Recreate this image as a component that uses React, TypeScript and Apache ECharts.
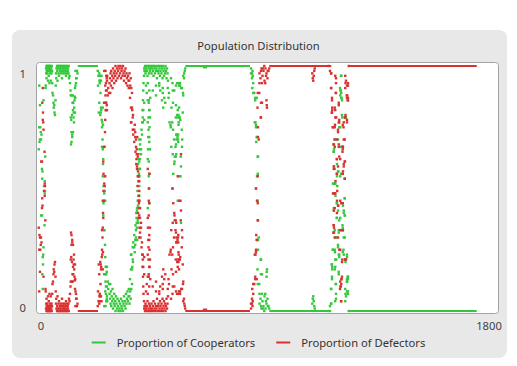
import React, { useEffect, useRef } from "react";
import * as echarts from "echarts";

// ---------- data (time step, proportion of cooperators) ----------
const xTicks = [0, 1800];
const yTicks = [0, 1];

const coopTransient: [number, number][] = [
  [3, 0.66], [5, 0.92], [5, 0.75], [6, 0.69], [8, 0.84], [8, 0.7], [9, 0.75], [11, 0.73], [12, 0.7],
  [13, 0.39], [14, 0.72], [16, 0.58], [17, 0.54], [16, 0.39], [18, 0.57], [17, 0.15], [19, 0.22],
  [20, 0.19], [19, 0.09], [21, 0.23], [22, 0.26], [22, 0.86], [24, 0.51], [26, 0.35], [27, 0.48],
  [27, 0.53], [28, 0.49], [29, 0.63], [30, 0.91],
];

const coopEarlyHigh: [number, number][] = [
  [32, 0.99], [33, 0.97], [34, 1], [35, 0.98], [36, 1], [37, 0.99], [38, 0.97], [39, 1], [40, 0.99],
  [41, 0.98], [42, 1], [43, 0.96], [44, 0.99], [45, 1], [46, 0.98], [47, 0.99], [48, 1], [49, 0.97],
  [50, 0.99], [51, 1], [52, 0.98], [53, 0.99], [54, 0.97], [55, 1], [56, 0.98],
  [34, 0.95], [40, 0.94], [46, 0.93], [51, 0.94], [31, 0.92],
  [57, 0.93], [58, 0.89], [60, 0.88], [62, 0.85], [63, 0.83], [65, 0.84], [66, 0.81], [68, 0.8],
  [70, 0.86], [71, 0.92],
  [72, 0.97], [73, 0.95], [74, 0.99], [76, 1], [77, 0.98], [78, 0.94], [79, 1], [80, 0.99], [82, 0.97],
  [83, 1], [84, 0.96], [86, 0.99], [87, 1], [88, 0.98], [90, 1], [91, 0.97], [92, 0.99], [94, 1],
  [95, 0.98], [96, 0.95], [98, 1], [99, 0.99], [100, 0.97], [102, 1], [103, 0.98], [104, 0.99],
  [106, 1], [107, 0.97], [108, 0.99], [110, 1], [111, 0.98], [112, 0.96], [114, 1], [115, 0.99],
  [116, 0.97], [118, 1], [119, 0.98], [120, 0.99], [122, 0.97], [123, 1], [124, 0.95], [126, 0.96],
  [128, 0.93],
  [130, 0.9], [131, 0.88], [131, 0.79], [132, 0.68], [133, 0.78], [134, 0.69], [134, 0.73],
  [135, 0.88], [136, 0.8], [137, 0.71], [137, 0.72], [138, 0.85], [139, 0.88], [140, 0.82],
  [140, 0.73], [141, 0.85], [142, 0.79], [143, 0.81], [144, 0.77], [145, 0.83], [146, 0.86],
  [147, 0.875], [148, 0.81], [148, 0.91], [149, 0.87], [150, 0.92], [150, 0.98], [152, 0.93],
  [153, 0.95], [154, 0.95], [156, 0.98], [158, 0.97],
];

const coopFirstFall: [number, number][] = [
  [239, 0.98], [240, 0.92], [242, 0.96], [243, 0.81], [245, 0.97], [246, 0.94], [245, 0.85],
  [247, 0.93], [248, 0.96], [249, 0.8], [248, 0.94], [250, 0.89], [251, 0.81], [252, 0.94],
  [252, 0.83], [253, 0.82], [254, 0.96], [255, 0.78], [256, 0.75], [256, 0.67], [257, 0.77],
  [258, 0.7], [259, 0.83], [260, 0.76], [259, 0.66], [260, 0.6], [259, 0.55], [261, 0.62],
  [262, 0.51], [261, 0.39], [262, 0.44], [264, 0.33], [264, 0.55], [264, 0.15], [265, 0.48],
  [266, 0.33], [265, 0.02], [267, 0.49], [268, 0.27], [269, 0.45], [269, 0.22], [270, 0.15],
  [269, 0.08], [271, 0.18], [270, 0.02], [270, 0.12], [272, 0.18], [272, 0.07], [273, 0.04],
  [272, 0.1], [273, 0.15], [275, 0.16], [275, 0.1], [276, 0.06], [275, 0.05], [276, 0.18],
  [277, 0.04], [279, 0.12], [281, 0.09], [284, 0.11],
];

const coopFirstLow: [number, number][] = [
  [286, 0.07], [288, 0.05], [289, 0.11], [290, 0.03], [292, 0.08], [293, 0.02], [295, 0.06],
  [297, 0.04], [298, 0.09], [300, 0.01], [302, 0.05], [303, 0.03], [305, 0.07], [307, 0.02],
  [309, 0.04], [310, 0], [312, 0.06], [314, 0.03], [316, 0.01], [318, 0.05], [320, 0.02],
  [322, 0], [324, 0.04], [326, 0.01], [328, 0.03], [330, 0], [332, 0.05], [334, 0.02],
  [336, 0.01], [338, 0.04], [340, 0], [342, 0.03], [344, 0.06], [346, 0.02], [348, 0.04],
  [350, 0.01], [352, 0.07], [354, 0.03], [356, 0.05], [358, 0.08], [360, 0.04], [362, 0.06],
  [363, 0.09], [365, 0.06], [366, 0.03], [368, 0.13], [369, 0.08], [371, 0.05],
];

const coopFirstRise: [number, number][] = [
  [372, 0.23], [372, 0.17], [373, 0.09], [376, 0.11], [377, 0.18], [379, 0.26], [380, 0.2],
  [381, 0.28], [385, 0.31], [387, 0.24], [389, 0.27], [390, 0.35], [392, 0.3], [393, 0.4],
  [394, 0.38], [395, 0.34], [396, 0.42], [397, 0.29], [399, 0.45], [398, 0.49], [400, 0.6],
  [401, 0.36], [402, 0.47], [403, 0.53], [404, 0.56], [405, 0.51], [406, 0.55], [405, 0.58],
  [406, 0.66], [408, 0.62], [410, 0.7], [412, 0.64], [414, 0.74], [416, 0.72], [417, 0.77],
  [418, 0.82], [419, 0.79], [420, 0.86], [421, 0.9], [422, 0.93], [424, 0.96], [425, 0.99],
  [373, 0.23], [379, 0.21], [376, 0.17], [385, 0.26], [389, 0.29], [392, 0.33], [395, 0.36],
  [399, 0.37], [396, 0.41], [400, 0.43], [402, 0.45], [405, 0.47], [402, 0.62], [405, 0.61],
  [408, 0.58], [403, 0.55], [405, 0.7], [408, 0.68], [412, 0.66], [419, 0.77], [425, 0.78],
  [421, 0.82], [425, 0.85],
];

const coopSecondHigh: [number, number][] = [
  [426, 0.98], [428, 1], [430, 0.97], [432, 0.99], [434, 1], [436, 0.98], [438, 0.96], [440, 1],
  [442, 0.99], [444, 0.97], [446, 1], [448, 0.98], [450, 0.99], [452, 1], [454, 0.97], [456, 0.99],
  [458, 1], [460, 0.98], [462, 0.96], [464, 1], [466, 0.99], [468, 0.97], [470, 1], [472, 0.98],
  [474, 0.99], [476, 0.95], [478, 1], [480, 0.98], [482, 0.97], [484, 1], [486, 0.99], [488, 0.96],
  [490, 0.98], [492, 1], [494, 0.97], [496, 0.99], [498, 0.95], [500, 1], [502, 0.98], [504, 0.96],
  [506, 0.99], [508, 0.97], [510, 1], [512, 0.98], [514, 0.95], [516, 0.99], [518, 0.97],
  [520, 0.94],
  [432, 0.92], [435, 0.89], [439, 0.86], [443, 0.85], [445, 0.82], [442, 0.79], [439, 0.77],
  [446, 0.75], [441, 0.71], [445, 0.69], [448, 0.66], [439, 0.62], [445, 0.56], [443, 0.55],
  [446, 0.44], [439, 0.42], [444, 0.5], [443, 0.61], [440, 0.66], [445, 0.71], [442, 0.74],
  [448, 0.79], [446, 0.82], [443, 0.86], [449, 0.87], [445, 0.9], [439, 0.93], [433, 0.98],
  [472, 0.92], [485, 0.92], [489, 0.9], [499, 0.89], [505, 0.87], [509, 0.85], [501, 0.83],
  [496, 0.86], [459, 0.9], [472, 0.88], [485, 0.93], [499, 0.91],
];

const coopSecondDip: [number, number][] = [
  [519, 0.91], [524, 0.89], [526, 0.77], [522, 0.87], [531, 0.75], [533, 0.67], [530, 0.76],
  [534, 0.83], [532, 0.95], [538, 0.93], [540, 0.85], [537, 0.77], [539, 0.64], [541, 0.56],
  [538, 0.5], [540, 0.74], [539, 0.9], [545, 0.9], [544, 0.7], [546, 0.61], [545, 0.6],
  [547, 0.63], [552, 0.92], [551, 0.79], [553, 0.72], [552, 0.68], [550, 0.67], [554, 0.7],
  [551, 0.63], [553, 0.64], [552, 0.84], [555, 0.72], [557, 0.8], [558, 0.71], [556, 0.93],
  [559, 0.82], [560, 0.7], [559, 0.45], [561, 0.72], [559, 0.79], [562, 0.8], [561, 0.69],
  [563, 0.93], [564, 0.83], [563, 0.77], [562, 0.76], [564, 0.92], [565, 0.55], [566, 0.79],
  [568, 0.92], [567, 0.79], [569, 0.78], [568, 0.93], [571, 0.63], [572, 0.59], [570, 0.55],
  [572, 0.36], [573, 0.91], [576, 0.91], [575, 0.74], [577, 0.7], [576, 0.67], [579, 0.81],
  [580, 0.89], [581, 0.88], [581, 0.96], [584, 0.95], [585, 0.97], [587, 0.98], [589, 0.99],
];

const coopPlateauBump: [number, number][] = [
  [664, 0.995], [672, 0.995],
];

const coopSecondFall: [number, number][] = [
  [852, 0.99], [856, 0.97], [859, 0.96], [861, 0.93], [857, 0.91], [865, 0.89], [869, 0.87],
  [875, 0.87], [870, 0.77], [872, 0.75], [875, 0.71], [873, 0.69], [879, 0.63], [876, 0.55],
  [872, 0.5], [879, 0.45], [880, 0.29], [892, 0.21], [878, 0.17], [896, 0.15], [915, 0.16],
  [914, 0.14], [885, 0.11], [886, 0.07], [896, 0.07], [909, 0.07], [912, 0.04], [919, 0.02],
  [892, 0.02], [899, 0.01], [925, 0.01], [905, 0],
  [879, 0.11], [892, 0.15], [916, 0.17], [880, 0.25], [891, 0.21], [883, 0.3], [879, 0.56],
  [872, 0.76], [867, 0.77], [869, 0.86], [861, 0.89], [852, 0.97], [858, 0.98], [856, 0.95],
  [876, 0.71], [880, 0.63],
  [886, 0.03], [890, 0.05], [894, 0.01], [898, 0.04], [902, 0.02], [906, 0.06], [910, 0.01],
  [914, 0.03], [918, 0.05], [922, 0.02],
];

const coopLowBump: [number, number][] = [
  [1097, 0.03], [1099, 0.05], [1101, 0.06], [1103, 0.04], [1105, 0.02], [1107, 0.01],
];

const coopLastSwing: [number, number][] = [
  [1163, 0], [1168, 0.02], [1172, 0.03], [1192, 0.05], [1173, 0.09], [1192, 0.07], [1176, 0.14],
  [1191, 0.11], [1203, 0.16], [1177, 0.18], [1175, 0.19], [1189, 0.18], [1193, 0.21],
  [1205, 0.23], [1223, 0.23], [1229, 0.21], [1236, 0.23], [1222, 0.25], [1179, 0.25],
  [1187, 0.25], [1200, 0.27], [1186, 0.3], [1196, 0.3], [1227, 0.3], [1203, 0.33], [1219, 0.33],
  [1218, 0.35], [1209, 0.38], [1196, 0.38], [1227, 0.39], [1200, 0.41], [1183, 0.42],
  [1223, 0.41], [1195, 0.44], [1219, 0.44], [1227, 0.46], [1183, 0.52], [1189, 0.52],
  [1196, 0.55], [1213, 0.56], [1200, 0.57], [1183, 0.59], [1196, 0.6], [1183, 0.65],
  [1219, 0.67], [1213, 0.67], [1184, 0.68], [1200, 0.7], [1205, 0.75], [1216, 0.8], [1229, 0.79],
  [1209, 0.88], [1213, 0.87], [1210, 0.9], [1208, 0.91], [1213, 0.96], [1240, 0.08],
  [1236, 0.08], [1232, 0.06], [1240, 0.13], [1239, 0.14], [1236, 0.13], [1235, 0.12],
  [1212, 0.96], [1211, 0.9], [1213, 0.89], [1214, 0.87], [1216, 0.86], [1217, 0.79],
  [1232, 0.79], [1209, 0.75], [1189, 0.7], [1182, 0.68], [1209, 0.67], [1184, 0.66],
  [1183, 0.65], [1201, 0.57], [1187, 0.58], [1219, 0.56], [1209, 0.55], [1180, 0.52],
  [1188, 0.52], [1197, 0.51], [1190, 0.47], [1227, 0.46], [1196, 0.44], [1220, 0.43],
  [1184, 0.41], [1223, 0.4], [1228, 0.39], [1195, 0.38], [1205, 0.37], [1219, 0.34],
  [1187, 0.33], [1203, 0.32], [1220, 0.33], [1223, 0.3], [1183, 0.32], [1200, 0.26],
  [1180, 0.25], [1188, 0.24], [1203, 0.23], [1219, 0.24], [1236, 0.22], [1205, 0.22],
  [1227, 0.21], [1230, 0.2], [1189, 0.21], [1176, 0.19], [1177, 0.17], [1187, 0.17],
  [1203, 0.15], [1176, 0.13], [1240, 0.14], [1237, 0.12], [1192, 0.11], [1172, 0.09],
  [1229, 0.09], [1230, 0.07], [1240, 0.07], [1189, 0.04], [1229, 0.04], [1173, 0.03],
  [1243, 0],
];

// flat stretches where the proportion stays put: start, end, cooperator value
const runStart = [159, 589, 925, 1243];
const runEnd = [240, 848, 1173, 1755];
const runCoopValue = [1, 1, 0, 0];

const coopName = "Proportion of Cooperators";
const defectName = "Proportion of Defectors";
const green = "#33c83a";
const red = "#d93131";
const FONT = "'Segoe UI', 'Noto Sans', 'Open Sans', sans-serif";
const FS = 11.2;

export default function App() {
  const ref = useRef<HTMLDivElement>(null);

  useEffect(() => {
    if (!ref.current) return;
    const chart = echarts.init(ref.current, undefined, { renderer: "svg" });

    const coop: [number, number][] = [
      ...coopTransient,
      ...coopEarlyHigh,
      ...coopFirstFall,
      ...coopFirstLow,
      ...coopFirstRise,
      ...coopSecondHigh,
      ...coopSecondDip,
      ...coopPlateauBump,
      ...coopSecondFall,
      ...coopLowBump,
      ...coopLastSwing,
    ];
    const defect: [number, number][] = coop.map(([t, v]) => [t, 1 - v]);

    const runs = (complement: boolean) =>
      runStart.map((s, i) => {
        const v = complement ? 1 - runCoopValue[i] : runCoopValue[i];
        return [{ coord: [s, v] }, { coord: [runEnd[i], v] }];
      });

    const markLine = (color: string, complement: boolean) => ({
      silent: true,
      symbol: ["none", "none"],
      label: { show: false },
      lineStyle: { color, width: 2, type: "solid", opacity: 1 },
      emphasis: { disabled: true },
      animation: false,
      data: runs(complement),
    });

    const labelText = { fontSize: FS, color: "#444444", fontFamily: FONT };

    chart.setOption({
      animation: false,
      backgroundColor: "#ffffff",
      textStyle: { fontFamily: FONT },
      graphic: [
        {
          type: "rect",
          z: -10,
          silent: true,
          shape: { x: 12, y: 30, width: 495, height: 328, r: 8 },
          style: { fill: "#e8e8e8" },
        },
        {
          type: "rect",
          z: -9,
          silent: true,
          shape: { x: 36.5, y: 62.5, width: 462, height: 251, r: 3 },
          style: { fill: "#ffffff", stroke: "#a3a3a3", lineWidth: 1 },
        },
      ],
      title: {
        text: "Population Distribution",
        left: "center",
        top: 40,
        padding: 0,
        textStyle: { fontSize: FS, fontWeight: "normal", color: "#333333", fontFamily: FONT },
      },
      legend: {
        data: [
          { name: coopName, itemStyle: { color: green } },
          { name: defectName, itemStyle: { color: red } },
        ],
        left: "center",
        top: 337,
        padding: 0,
        icon: "rect",
        itemWidth: 14,
        itemHeight: 2,
        itemGap: 21,
        textStyle: { fontSize: FS, color: "#333333", fontFamily: FONT, padding: [0, 0, 0, 6] },
      },
      grid: { left: 38, right: 29, top: 66, bottom: 55, containLabel: false },
      xAxis: {
        type: "value",
        min: xTicks[0],
        max: xTicks[1],
        interval: xTicks[1] - xTicks[0],
        axisLine: { show: false },
        axisTick: { show: false },
        splitLine: { show: false },
        axisLabel: {
          margin: 9,
          ...labelText,
          formatter: (v: number) => (v === xTicks[0] ? `{a|${v}}` : `{b|${v}}`),
          rich: {
            a: { padding: [0, 0, 0, 6], ...labelText },
            b: { padding: [0, 0, 0, 2], ...labelText },
          },
        },
      },
      yAxis: {
        type: "value",
        min: yTicks[0],
        max: yTicks[1],
        interval: yTicks[1] - yTicks[0],
        axisLine: { show: false },
        axisTick: { show: false },
        splitLine: { show: false },
        axisLabel: {
          margin: 12,
          ...labelText,
          formatter: (v: number) => (v === yTicks[1] ? `{t|${v}}` : `{b|${v}}`),
          rich: {
            t: { padding: [15, 0, 0, 0], ...labelText },
            b: { padding: [0, 0, 8, 0], ...labelText },
          },
        },
      },
      series: [
        {
          name: coopName,
          type: "scatter",
          symbol: "rect",
          symbolSize: 2.4,
          itemStyle: { color: green, opacity: 1 },
          silent: true,
          data: coop,
          markLine: markLine(green, false),
        },
        {
          name: defectName,
          type: "scatter",
          symbol: "rect",
          symbolSize: 2.4,
          itemStyle: { color: red, opacity: 1 },
          silent: true,
          data: defect,
          markLine: markLine(red, true),
        },
      ],
    });

    return () => chart.dispose();
  }, []);

  return (
    <div
      ref={ref}
      style={{ position: "fixed", left: 0, top: 0, width: 517, height: 366 }}
    />
  );
}
